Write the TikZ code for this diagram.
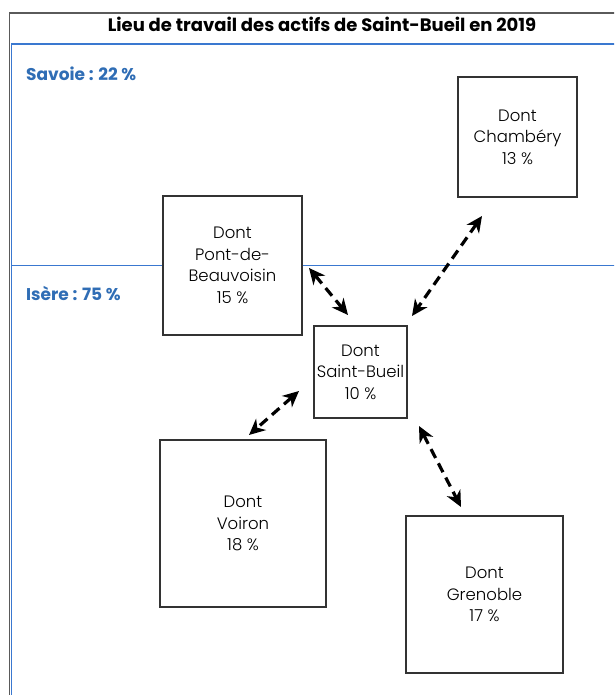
\documentclass[tikz,border=0pt]{standalone}
\usepackage{fontspec}
\setmainfont{Poppins}
\newfontfamily\celltext{Poppins Light}
\usetikzlibrary{arrows.meta}
\definecolor{frame}{HTML}{5A5A5A}
\definecolor{zoneblue}{HTML}{3A78D0}
\definecolor{labelblue}{HTML}{2F6DB5}
\tikzset{
  cell/.style={draw=black!80, line width=1.3pt, fill=white, align=center,
    font=\celltext\fontsize{16.5}{21.5}\selectfont, inner sep=0pt},
  zonelabel/.style={anchor=west, text=labelblue, font=\bfseries\fontsize{17}{19}\selectfont, inner sep=0pt},
  flow/.style={line width=3.2pt, dash pattern=on 10pt off 6pt,
    {Stealth[length=16pt,width=15pt,inset=5pt]}-{Stealth[length=16pt,width=15pt,inset=5pt]}}
}
\begin{document}
\begin{tikzpicture}[x=1pt,y=-1pt]
\useasboundingbox (0,0) rectangle (614,695);
\fill[white] (0,0) rectangle (614,695);
\begin{scope}
\clip (0,0) rectangle (614,695);
% outer frame and zone borders
\draw[frame, line width=1.5pt] (9.5,720) -- (9.5,13) -- (640,13);
\draw[zoneblue, line width=1.8pt] (11.5,720) -- (11.5,44) -- (640,44);
\draw[zoneblue, line width=1.8pt] (11.5,265.5) -- (640,265.5);
\end{scope}

\node[font=\bfseries\fontsize{18}{20}\selectfont, inner sep=0pt] (title) at (322,24) {Lieu de travail des actifs de Saint-Bueil en 2019};
\node[zonelabel] (savoie) at (26,74) {Savoie : 22 \%};
\node[zonelabel] (isere) at (26,294) {Isère : 75 \%};

\node[cell, minimum width=119pt, minimum height=120pt] (cham) at (517.5,137) {Dont\\Chambéry\\13 \%};
\node[cell, minimum width=139pt, minimum height=139pt] (pdb) at (232.5,265.5) {Dont\\Pont-de-\\Beauvoisin\\15 \%};
\node[cell, minimum width=93pt, minimum height=92pt] (sb) at (360.5,372) {Dont\\Saint-Bueil\\10 \%};
\node[cell, minimum width=166pt, minimum height=167pt] (voi) at (243,523.5) {Dont\\Voiron\\18 \%};
\node[cell, minimum width=157pt, minimum height=157pt] (gre) at (484.5,594.5) {Dont\\Grenoble\\17 \%};

% free ends of the flow arrows
\coordinate (pdbEnd) at (309,268);
\coordinate (sbA) at (348,315);
\coordinate (chamEnd) at (482,216);
\coordinate (sbB) at (412,316);
\coordinate (sbC) at (299,391);
\coordinate (voiEnd) at (249,435);
\coordinate (sbD) at (419,426);
\coordinate (greEnd) at (461,507);

\draw[flow] (pdbEnd) -- (sbA);
\draw[flow] (chamEnd) -- (sbB);
\draw[flow] (sbC) -- (voiEnd);
\draw[flow] (sbD) -- (greEnd);
\end{tikzpicture}
\end{document}
